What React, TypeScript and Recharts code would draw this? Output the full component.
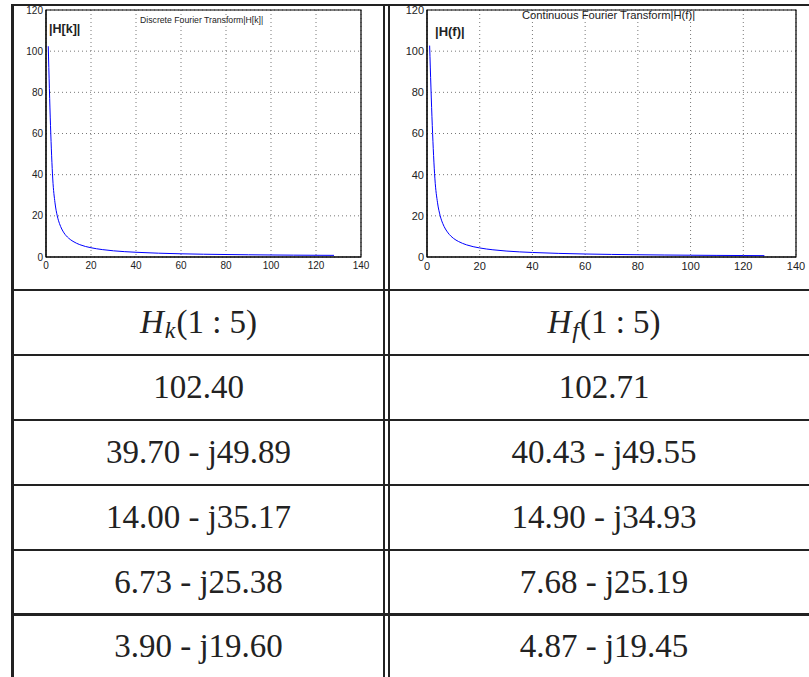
import React from 'react';
import { LineChart, Line, XAxis, YAxis, CartesianGrid, ReferenceArea } from 'recharts';

// sample index (MATLAB 1-based) and magnitudes
const kIndex = [1, 2, 3, 4, 5, 6, 7, 8, 10, 12, 15, 20, 25, 30, 40, 50, 60, 70, 80, 90, 100, 110, 120, 128];
const dftMag = [102.4, 63.8, 37.9, 26.3, 20.0, 16.2, 13.6, 11.7, 9.2, 7.6, 6.0, 4.5, 3.6, 3.0, 2.3, 1.85, 1.55, 1.35, 1.2, 1.08, 0.98, 0.9, 0.84, 0.8];
const ctftMag = [102.71, 63.95, 37.97, 26.33, 20.05, 16.2, 13.6, 11.7, 9.1, 7.5, 5.9, 4.4, 3.5, 2.9, 2.2, 1.75, 1.45, 1.25, 1.1, 0.97, 0.87, 0.78, 0.71, 0.66];

const xTicks = [0, 20, 40, 60, 80, 100, 120, 140];
const yTicks = [0, 20, 40, 60, 80, 100, 120];

// first five coefficients shown in the table
const dftRows = ['102.40', '39.70 - j49.89', '14.00 - j35.17', '6.73 - j25.38', '3.90 - j19.60'];
const ctftRows = ['102.71', '40.43 - j49.55', '14.90 - j34.93', '7.68 - j25.19', '4.87 - j19.45'];

const dftData = kIndex.map((k, i) => ({ k, mag: dftMag[i] }));
const ctftData = kIndex.map((k, i) => ({ k, mag: ctftMag[i] }));

const sans = '"Liberation Sans", Arial, sans-serif';
const serif = '"Liberation Serif", "DejaVu Serif", "Times New Roman", serif';

interface MagPlotProps {
  data: Array<{ k: number; mag: number }>;
  left: number;
  width: number;
  yAxisWidth: number;
  marginLeft: number;
  marginRight: number;
  fontSize: number;
}

const MagPlot = ({ data, left, width, yAxisWidth, marginLeft, marginRight, fontSize }: MagPlotProps) => {
  const tickStyle = { fontSize, fill: '#222', fontFamily: sans };
  return (
    <div style={{ position: 'absolute', left, top: 0 }}>
      <LineChart width={width} height={280} data={data} margin={{ top: 10, right: marginRight, left: marginLeft, bottom: 3 }}>
        <CartesianGrid stroke="#555" strokeDasharray="1 3" strokeWidth={0.8} />
        <XAxis
          dataKey="k"
          type="number"
          domain={[0, 140]}
          ticks={xTicks}
          tick={tickStyle}
          tickLine={false}
          tickSize={5}
          tickMargin={0}
          height={20}
          axisLine={{ stroke: '#000' }}
          interval={0}
        />
        <YAxis
          type="number"
          domain={[0, 120]}
          ticks={yTicks}
          tick={tickStyle}
          tickLine={false}
          tickSize={3}
          tickMargin={0}
          width={yAxisWidth}
          axisLine={{ stroke: '#000' }}
          interval={0}
        />
        <ReferenceArea x1={0} x2={140} y1={0} y2={120} fill="none" fillOpacity={0} stroke="#000" strokeWidth={1.2} />
        <Line type="monotone" dataKey="mag" stroke="#0000ff" strokeWidth={1} dot={false} isAnimationActive={false} />
      </LineChart>
    </div>
  );
};

const rowTops = [290, 355, 420, 485, 550, 614];

const Cell = ({ x, w, y, children }: { x: number; w: number; y: number; children: React.ReactNode }) => (
  <div
    style={{
      position: 'absolute', left: x, top: y, width: w, height: 65,
      display: 'flex', alignItems: 'center', justifyContent: 'center',
      fontFamily: serif, fontSize: 33, color: '#222', whiteSpace: 'nowrap',
    }}
  >
    {children}
  </div>
);

const Sub = ({ c }: { c: string }) => (
  <span style={{ fontSize: 24, fontStyle: 'italic', position: 'relative', top: 8, marginLeft: 1, marginRight: 1 }}>{c}</span>
);

const hLine = (y: number, h = 2) => (
  <div key={'h' + y} style={{ position: 'absolute', left: 11, top: y - 1, width: 800, height: h, background: '#222' }} />
);
const vLine = (x: number, w = 2) => (
  <div key={'v' + x} style={{ position: 'absolute', left: x, top: 4, width: w, height: 680, background: '#222' }} />
);

export default function App() {
  return (
    <div style={{ position: 'absolute', left: 0, top: 0, width: 809, height: 677, overflow: 'hidden', background: '#fff' }}>
      <MagPlot data={dftData} left={0} width={380} yAxisWidth={40} marginLeft={6} marginRight={19} fontSize={10} />
      <MagPlot data={ctftData} left={390} width={419} yAxisWidth={30} marginLeft={7} marginRight={13} fontSize={11} />

      <div style={{ position: 'absolute', left: 140, top: 15, fontFamily: sans, fontSize: 8.7, color: '#222', whiteSpace: 'nowrap' }}>
        Discrete Fourier Transform|H[k]|
      </div>
      <div style={{ position: 'absolute', left: 49, top: 22, fontFamily: sans, fontSize: 12.5, fontWeight: 'bold', color: '#222' }}>|H[k]|</div>
      <div style={{ position: 'absolute', left: 522, top: 9, fontFamily: sans, fontSize: 11.2, color: '#222', whiteSpace: 'nowrap' }}>
        Continuous Fourier Transform|H(f)|
      </div>
      <div style={{ position: 'absolute', left: 435, top: 24, fontFamily: sans, fontSize: 13, fontWeight: 'bold', color: '#222' }}>|H(f)|</div>

      {/* table rules */}
      <div style={{ position: 'absolute', left: 11, top: 4, width: 800, height: 2, background: '#222' }} />
      {vLine(11, 3)}
      {vLine(383)}
      {vLine(388)}
      {rowTops.map((y, i) => hLine(y, i === rowTops.length - 1 ? 3 : 2))}

      <Cell x={14} w={369} y={rowTops[0]}>
        <i>H</i><Sub c="k" />(1 : 5)
      </Cell>
      <Cell x={390} w={428} y={rowTops[0]}>
        <i>H</i><Sub c="f" />(1 : 5)
      </Cell>
      {dftRows.map((t, i) => (
        <Cell key={'d' + i} x={14} w={369} y={rowTops[i + 1]}>{t}</Cell>
      ))}
      {ctftRows.map((t, i) => (
        <Cell key={'c' + i} x={390} w={428} y={rowTops[i + 1]}>{t}</Cell>
      ))}
    </div>
  );
}
